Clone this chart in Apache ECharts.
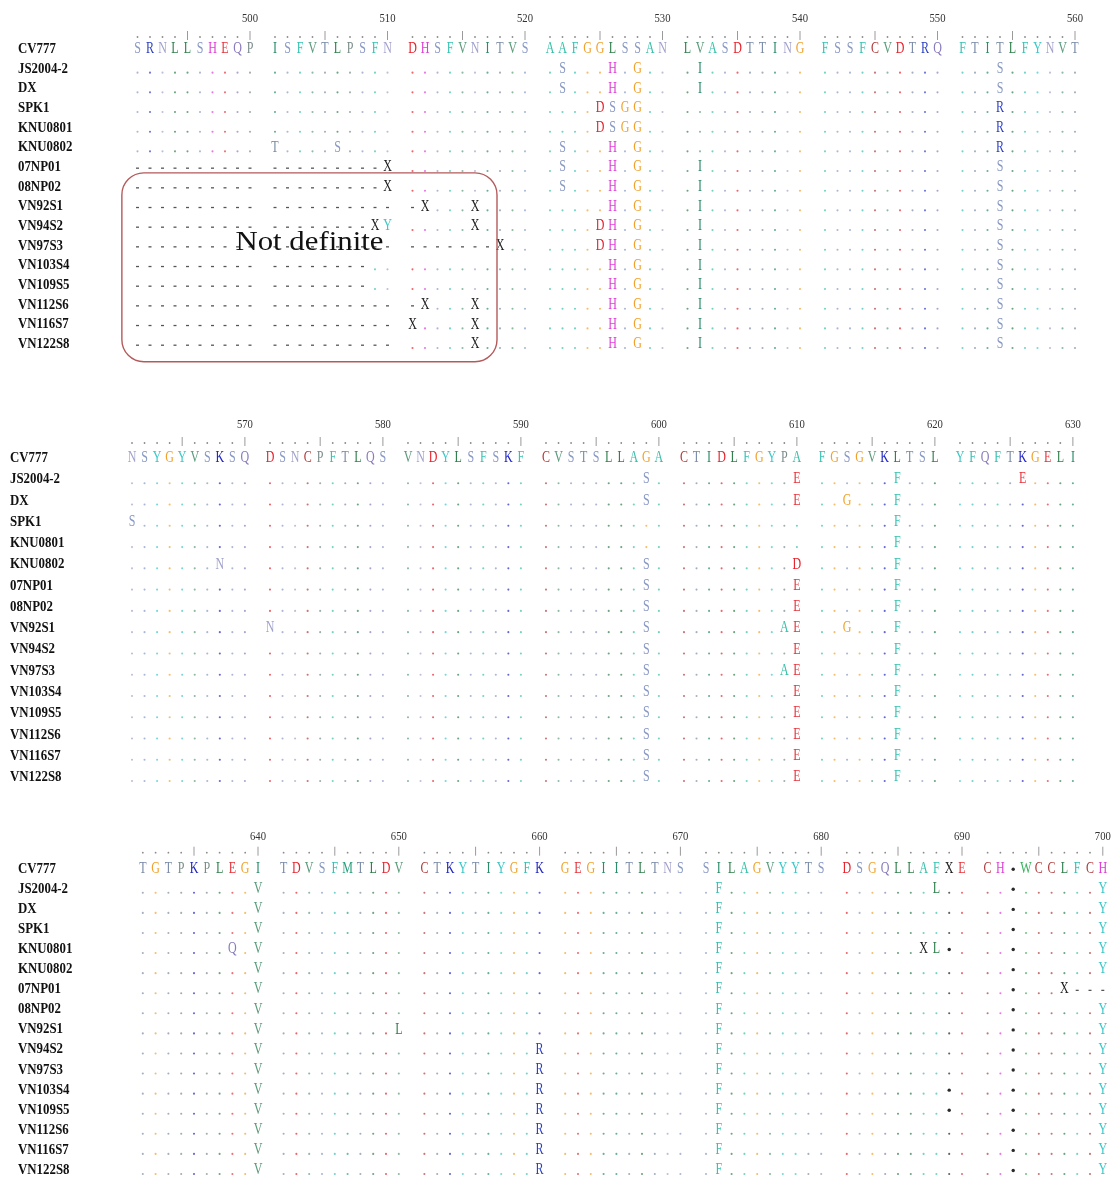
<!DOCTYPE html>
<html>
<head>
<meta charset="utf-8">
<script src="https://cdn.jsdelivr.net/npm/echarts@6/dist/echarts.min.js"></script>
<style>
html,body{margin:0;padding:0;background:#fff;}
#chart{width:1118px;height:1180px;}
</style>
</head>
<body>
<div id="chart"></div>
<script>
// ---------------- DATA ----------------
const strainNames = ['CV777','JS2004-2','DX','SPK1','KNU0801','KNU0802','07NP01','08NP02',
  'VN92S1','VN94S2','VN97S3','VN103S4','VN109S5','VN112S6','VN116S7','VN122S8'];

const blockStarts = [491, 561, 631];

// '.' = identical to CV777, '-' = not definite, letters = residue
const block1Rows = [
  'SRNLLSHEQP ISFVTLPSFN DHSFVNITVS AAFGGLSSAN LVASDTTING FSSFCVDTRQ FTITLFYNVT',
  '.......... .......... .......... .S...H.G.. .I........ .......... ...S......',
  '.......... .......... .......... .S...H.G.. .I........ .......... ...S......',
  '.......... .......... .......... ....DSGG.. .......... .......... ...R......',
  '.......... .......... .......... ....DSGG.. .......... .......... ...R......',
  '.......... T....S.... .......... .S...H.G.. .......... .......... ...R......',
  '---------- ---------X .......... .S...H.G.. .I........ .......... ...S......',
  '---------- ---------X .......... .S...H.G.. .I........ .......... ...S......',
  '---------- ---------- -X...X.... .....H.G.. .I........ .......... ...S......',
  '---------- --------XY .....X.... ....DH.G.. .I........ .......... ...S......',
  '---------- ---------- -------X.. ....DH.G.. .I........ .......... ...S......',
  '---------- --------.. .......... .....H.G.. .I........ .......... ...S......',
  '---------- --------.. .......... .....H.G.. .I........ .......... ...S......',
  '---------- ---------- -X...X.... .....H.G.. .I........ .......... ...S......',
  '---------- ---------- X....X.... .....H.G.. .I........ .......... ...S......',
  '---------- ---------- .....X.... .....H.G.. .I........ .......... ...S......'
];

const block2Rows = [
  'NSYGYVSKSQ DSNCPFTLQS VNDYLSFSKF CVSTSLLAGA CTIDLFGYPA FGSGVKLTSL YFQFTKGELI',
  '.......... .......... .......... ........S. .........E ......F... .....E....',
  '.......... .......... .......... ........S. .........E ..G...F... ..........',
  'S......... .......... .......... .......... .......... ......F... ..........',
  '.......... .......... .......... .......... .......... ......F... ..........',
  '.......N.. .......... .......... ........S. .........D ......F... ..........',
  '.......... .......... .......... ........S. .........E ......F... ..........',
  '.......... .......... .......... ........S. .........E ......F... ..........',
  '.......... N......... .......... ........S. ........AE ..G...F... ..........',
  '.......... .......... .......... ........S. .........E ......F... ..........',
  '.......... .......... .......... ........S. ........AE ......F... ..........',
  '.......... .......... .......... ........S. .........E ......F... ..........',
  '.......... .......... .......... ........S. .........E ......F... ..........',
  '.......... .......... .......... ........S. .........E ......F... ..........',
  '.......... .......... .......... ........S. .........E ......F... ..........',
  '.......... .......... .......... ........S. .........E ......F... ..........'
];

const block3Rows = [
  'TGTPKPLEGI TDVSFMTLDV CTKYTIYGFK GEGIITLTNS SILAGVYYTS DSGQLLAFXE CH*WCCLFCH',
  '.........V .......... .......... .......... .F........ .......L.. ..*......Y',
  '.........V .......... .......... .......... .F........ .......... ..*......Y',
  '.........V .......... .......... .......... .F........ .......... ..*......Y',
  '.......Q.V .......... .......... .......... .F........ ......XL*. ..*......Y',
  '.........V .......... .......... .......... .F........ .......... ..*......Y',
  '.........V .......... .......... .......... .F........ .......... ..*...X---',
  '.........V .......... .......... .......... .F........ .......... ..*......Y',
  '.........V .........L .......... .......... .F........ .......... ..*......Y',
  '.........V .......... .........R .......... .F........ .......... ..*......Y',
  '.........V .......... .........R .......... .F........ .......... ..*......Y',
  '.........V .......... .........R .......... .F........ ........*. ..*......Y',
  '.........V .......... .........R .......... .F........ ........*. ..*......Y',
  '.........V .......... .........R .......... .F........ .......... ..*......Y',
  '.........V .......... .........R .......... .F........ .......... ..*......Y',
  '.........V .......... .........R .......... .F........ .......... ..*......Y'
];

const block1TickLabels = ['500','510','520','530','540','550','560'];
const block2TickLabels = ['570','580','590','600','610','620','630'];
const block3TickLabels = ['640','650','660','670','680','690','700'];

const noteText = 'Not definite';
const noteFirstStrain = '08NP02';
const noteLastPosition = 517;

// ---------------- STYLE / LAYOUT ----------------
const RES_COLORS = {
  A:'#36c0a8', R:'#2b3fc0', N:'#a2a2cc', D:'#e8222c', C:'#b03a3a', Q:'#8a7cbc', E:'#e6323a',
  G:'#f0a22c', H:'#e03ed8', I:'#2a8c68', L:'#2f7f4c', K:'#2228c4', M:'#26a07c', F:'#36c2b2',
  P:'#7a8c8a', S:'#8898c4', T:'#7c8ca8', W:'#38b05c', Y:'#3cc8c8', V:'#5c9c7c', X:'#1e1e1e', '*':'#222222'
};
const LAYOUT = [
  {x0:137.5, dx:12.5,  y0:49,  dy:19.67, nameX:18, rulerDy:-12, labelDy:-30},
  {x0:132,   dx:12.545,y0:458, dy:21.27, nameX:10, rulerDy:-15, labelDy:-33},
  {x0:142.8, dx:12.8,  y0:869, dy:20.2,  nameX:18, rulerDy:-16, labelDy:-32}
];
const XMIN = -10.5, XMAX = 76, YMIN = -2.4, YMAX = 15.5;
const RES_FONT = '16px "Liberation Serif", "Times New Roman", serif';
const NAME_FONT = 'bold 15.5px "Liberation Serif", "Times New Roman", serif';
const TICK_FONT = '13px "Liberation Serif", "Times New Roman", serif';

function colOf(i){ return i + Math.floor(i / 10); }

const blocks = [
  {rows: block1Rows, start: blockStarts[0], ticks: block1TickLabels},
  {rows: block2Rows, start: blockStarts[1], ticks: block2TickLabels},
  {rows: block3Rows, start: blockStarts[2], ticks: block3TickLabels}
];

function buildItems(block, L){
  const items = [];
  const rows = block.rows.map(s => s.replace(/ /g, ''));
  const ref = rows[0];
  const nameCol = (L.nameX - L.x0) / L.dx;
  strainNames.forEach((n, r) => items.push({kind:'name', col:nameCol, row:r, text:n}));
  for (let i = 0; i < ref.length; i++){
    const p = block.start + i;
    items.push({kind: p % 5 === 0 ? 'tick' : 'rdot', col: colOf(i), row: 0});
  }
  block.ticks.forEach(t => {
    items.push({kind:'label', col: colOf(Number(t) - block.start), row: 0, text: t});
  });
  rows.forEach((s, r) => {
    for (let i = 0; i < s.length; i++){
      const ch = s[i];
      const c = colOf(i);
      if (ch === '.') items.push({kind:'dot', col:c, row:r, color: RES_COLORS[ref[i]] || '#888'});
      else if (ch === '-') items.push({kind:'dash', col:c, row:r});
      else if (ch === '*') items.push({kind:'star', col:c, row:r});
      else items.push({kind:'res', col:c, row:r, text:ch, color: RES_COLORS[ch] || '#222'});
    }
  });
  return items;
}

function makeRender(items, L){
  return function(params, api){
    const it = items[params.dataIndex];
    const p = api.coord([it.col, it.row]);
    switch (it.kind){
      case 'name':
        return {type:'text', x:p[0], y:p[1], scaleX:0.83,
          style:{text:it.text, fill:'#111', font:NAME_FONT, align:'left', verticalAlign:'middle'}};
      case 'res':
        return {type:'text', x:p[0], y:p[1], scaleX:0.75,
          style:{text:it.text, fill:it.color, font:RES_FONT, align:'center', verticalAlign:'middle'}};
      case 'dot':
        return {type:'circle', shape:{cx:p[0], cy:p[1] + 4, r:1.05}, style:{fill:it.color, opacity:0.7}};
      case 'dash':
        return {type:'rect', shape:{x:p[0] - 1.5, y:p[1] + 0.5, width:3, height:1.3}, style:{fill:'#555'}};
      case 'star':
        return {type:'circle', shape:{cx:p[0], cy:p[1] + 0.5, r:1.7}, style:{fill:'#2a2a2a'}};
      case 'rdot':
        return {type:'circle', shape:{cx:p[0], cy:p[1] + L.rulerDy, r:0.9}, style:{fill:'#8a8a8a'}};
      case 'tick':
        return {type:'line', shape:{x1:p[0], y1:p[1] + L.rulerDy - 6, x2:p[0], y2:p[1] + L.rulerDy + 3},
          style:{stroke:'#9a9a9a', lineWidth:1}};
      case 'label':
        return {type:'text', x:p[0], y:p[1] + L.labelDy, scaleX:0.82,
          style:{text:it.text, fill:'#333', font:TICK_FONT, align:'center', verticalAlign:'middle'}};
    }
    return null;
  };
}

const grids = [], xAxes = [], yAxes = [], series = [];
blocks.forEach((b, k) => {
  const L = LAYOUT[k];
  grids.push({left: L.x0 + L.dx * XMIN, width: L.dx * (XMAX - XMIN),
              top: L.y0 + L.dy * YMIN, height: L.dy * (YMAX - YMIN)});
  xAxes.push({gridIndex:k, type:'value', min:XMIN, max:XMAX, show:false});
  yAxes.push({gridIndex:k, type:'value', min:YMIN, max:YMAX, inverse:true, show:false});
  const items = buildItems(b, L);
  series.push({
    type:'custom', xAxisIndex:k, yAxisIndex:k, clip:false, silent:true,
    renderItem: makeRender(items, L),
    data: items.map(d => [d.col, d.row]),
    encode:{x:0, y:1}
  });
});

// "Not definite" annotation on block 1
const noteTop = strainNames.indexOf(noteFirstStrain) - 0.7;
const noteBottom = strainNames.length - 1 + 0.9;
const noteLeft = -1.25;
const noteRight = colOf(noteLastPosition - blockStarts[0]) + 0.76;
series.push({
  type:'custom', xAxisIndex:0, yAxisIndex:0, clip:false, silent:true, z:5,
  data:[[noteLeft, noteTop, noteRight, noteBottom]],
  encode:{x:[0,2], y:[1,3]},
  renderItem: function(params, api){
    const a = api.coord([api.value(0), api.value(1)]);
    const b = api.coord([api.value(2), api.value(3)]);
    const cx = (a[0] + b[0]) / 2, cy = (a[1] + b[1]) / 2 - 25;
    return {type:'group', children:[
      {type:'rect', shape:{x:a[0], y:a[1], width:b[0]-a[0], height:b[1]-a[1], r:22},
        style:{fill:'none', stroke:'#b45a5a', lineWidth:1.4}},
      {type:'text', x:cx, y:cy, scaleX:1.1,
        style:{text:noteText, fill:'#111', font:'28px "Liberation Serif", serif', align:'center', verticalAlign:'middle'}}
    ]};
  }
});

const chart = echarts.init(document.getElementById('chart'), null, {renderer:'canvas'});
chart.setOption({
  backgroundColor:'#ffffff',
  animation:false,
  grid: grids,
  xAxis: xAxes,
  yAxis: yAxes,
  series: series
});
</script>
</body>
</html>
